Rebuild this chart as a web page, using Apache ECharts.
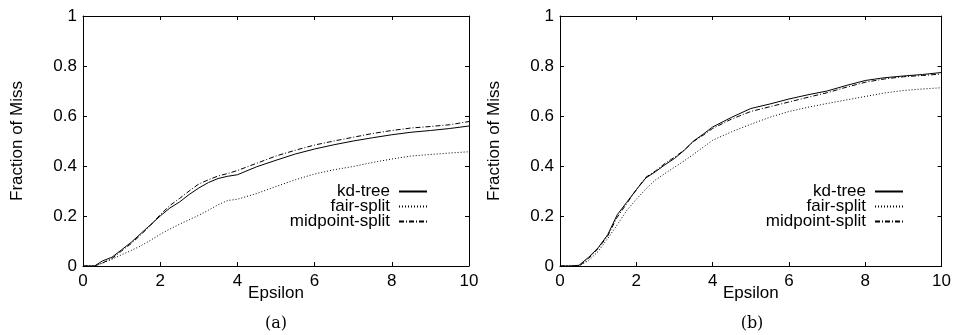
<!DOCTYPE html>
<html>
<head>
<meta charset="utf-8">
<script src="https://cdn.jsdelivr.net/npm/echarts@6/dist/echarts.min.js"></script>
<style>
  html, body { margin: 0; padding: 0; background: #fff; }
  #chart { width: 954px; height: 335px; }
</style>
</head>
<body>
<div id="chart"></div>
<script>
const eps = [0, 0.3, 0.5, 0.75, 1, 1.25, 1.5, 1.75, 2, 2.25, 2.5, 2.75, 3, 3.25, 3.5, 3.75, 4,
  4.5, 5, 5.5, 6, 6.5, 7, 7.5, 8, 8.5, 9, 9.5, 10]

// (a)
const kdA = [0, 0, 0.02, 0.035, 0.065, 0.095, 0.13, 0.165, 0.2, 0.232, 0.256, 0.286, 0.312, 0.334, 0.35, 0.359, 0.365,
  0.397, 0.423, 0.448, 0.468, 0.485, 0.5, 0.513, 0.525, 0.535, 0.542, 0.55, 0.56]
const fairA = [0, 0, 0.011, 0.027, 0.045, 0.062, 0.081, 0.103, 0.127, 0.148, 0.167, 0.185, 0.203, 0.223, 0.245, 0.262, 0.267,
  0.29, 0.318, 0.345, 0.368, 0.385, 0.398, 0.414, 0.428, 0.44, 0.446, 0.452, 0.457]
const midA = [0, 0, 0.012, 0.03, 0.06, 0.09, 0.125, 0.163, 0.205, 0.242, 0.27, 0.3, 0.328, 0.345, 0.36, 0.37, 0.382,
  0.411, 0.44, 0.463, 0.484, 0.5, 0.515, 0.53, 0.542, 0.552, 0.558, 0.565, 0.578]

// (b)
const kdB = [0, 0, 0.003, 0.035, 0.073, 0.125, 0.205, 0.255, 0.305, 0.352, 0.377, 0.405, 0.43, 0.462, 0.5, 0.527, 0.556,
  0.595, 0.63, 0.648, 0.668, 0.685, 0.7, 0.722, 0.742, 0.753, 0.76, 0.766, 0.774]
const fairB = [0, 0, 0, 0.022, 0.058, 0.11, 0.165, 0.222, 0.267, 0.308, 0.344, 0.37, 0.395, 0.42, 0.447, 0.475, 0.503,
  0.537, 0.567, 0.595, 0.618, 0.635, 0.65, 0.664, 0.678, 0.692, 0.702, 0.708, 0.713]
const midB = [0, 0, 0, 0.03, 0.07, 0.12, 0.195, 0.25, 0.305, 0.355, 0.38, 0.41, 0.435, 0.463, 0.498, 0.523, 0.55,
  0.588, 0.618, 0.637, 0.656, 0.675, 0.693, 0.715, 0.735, 0.748, 0.757, 0.762, 0.768]

const names = ['kd-tree', 'fair-split', 'midpoint-split']
const captions = ['(a)', '(b)']

const font = 'Liberation Sans'
const black = '#000'
const myChart = echarts.init(document.getElementById('chart'))

const pairs = (ys) => eps.map((x, i) => [x, ys[i]])
const dashes = ['solid', [1, 2], [5, 2, 1, 2]]

const grids = [
  { left: 83, top: 16, width: 386, height: 250 },
  { left: 560, top: 16, width: 385, height: 250 }
]

const tick = { inside: true, length: 4, lineStyle: { color: black } }
const line = { show: true, onZero: false, lineStyle: { color: black, width: 1 } }

const xAxis = []
const yAxis = []
grids.forEach((g, gi) => {
  xAxis.push({
    type: 'value', gridIndex: gi, min: 0, max: 10, interval: 2,
    name: 'Epsilon', nameLocation: 'middle', nameGap: 19, nameMoveOverlap: false,
    nameTextStyle: { fontFamily: font, fontSize: 17, color: black },
    axisLine: line,
    axisTick: tick,
    axisLabel: { fontFamily: font, fontSize: 17, color: black, margin: 7 },
    splitLine: { show: false }
  })
  xAxis.push({
    type: 'value', gridIndex: gi, min: 0, max: 10, interval: 2, position: 'top',
    axisLine: line,
    axisTick: tick,
    axisLabel: { show: false },
    splitLine: { show: false }
  })
  yAxis.push({
    type: 'value', gridIndex: gi, min: 0, max: 1, interval: 0.2,
    name: 'Fraction of Miss', nameLocation: 'middle', nameGap: 57, nameMoveOverlap: false,
    nameTextStyle: { fontFamily: font, fontSize: 17, color: black },
    axisLine: line,
    axisTick: { show: true, ...tick },
    axisLabel: { fontFamily: font, fontSize: 17, color: black, margin: 6 },
    splitLine: { show: false }
  })
  yAxis.push({
    type: 'value', gridIndex: gi, min: 0, max: 1, interval: 0.2, position: 'right',
    axisLine: line,
    axisTick: { show: true, ...tick },
    axisLabel: { show: false },
    splitLine: { show: false }
  })
})

const series = []
const sets = [[kdA, fairA, midA], [kdB, fairB, midB]]
sets.forEach((set, gi) => {
  set.forEach((ys, si) => {
    series.push({
      name: names[si],
      type: 'line',
      xAxisIndex: gi * 2,
      yAxisIndex: gi * 2,
      data: pairs(ys),
      symbol: 'none',
      showSymbol: false,
      animation: false,
      color: black,
      lineStyle: { color: black, width: 1, type: dashes[si] }
    })
  })
})

const legendBase = {
  orient: 'vertical',
  align: 'right',
  top: 183,
  padding: 0,
  itemGap: -2,
  itemWidth: 28,
  itemHeight: 15,
  data: names,
  selectedMode: false,
  itemStyle: { color: 'transparent', borderColor: 'transparent', borderWidth: 0 },
  textStyle: { fontFamily: font, fontSize: 17, color: black, lineHeight: 15, padding: [0, 4, 0, 0] }
}

const option = {
  backgroundColor: '#fff',
  animation: false,
  grid: grids,
  xAxis,
  yAxis,
  legend: [
    { ...legendBase, right: 526 },
    { ...legendBase, right: 50 }
  ],
  title: captions.map((t, i) => ({
    text: t,
    left: i === 0 ? 276 : 752,
    top: 316,
    textAlign: 'center',
    padding: 0,
    textStyle: { fontFamily: 'DejaVu Serif', fontSize: 16, fontWeight: 'normal', color: black }
  })),
  series
}

myChart.setOption(option)
</script>
</body>
</html>
